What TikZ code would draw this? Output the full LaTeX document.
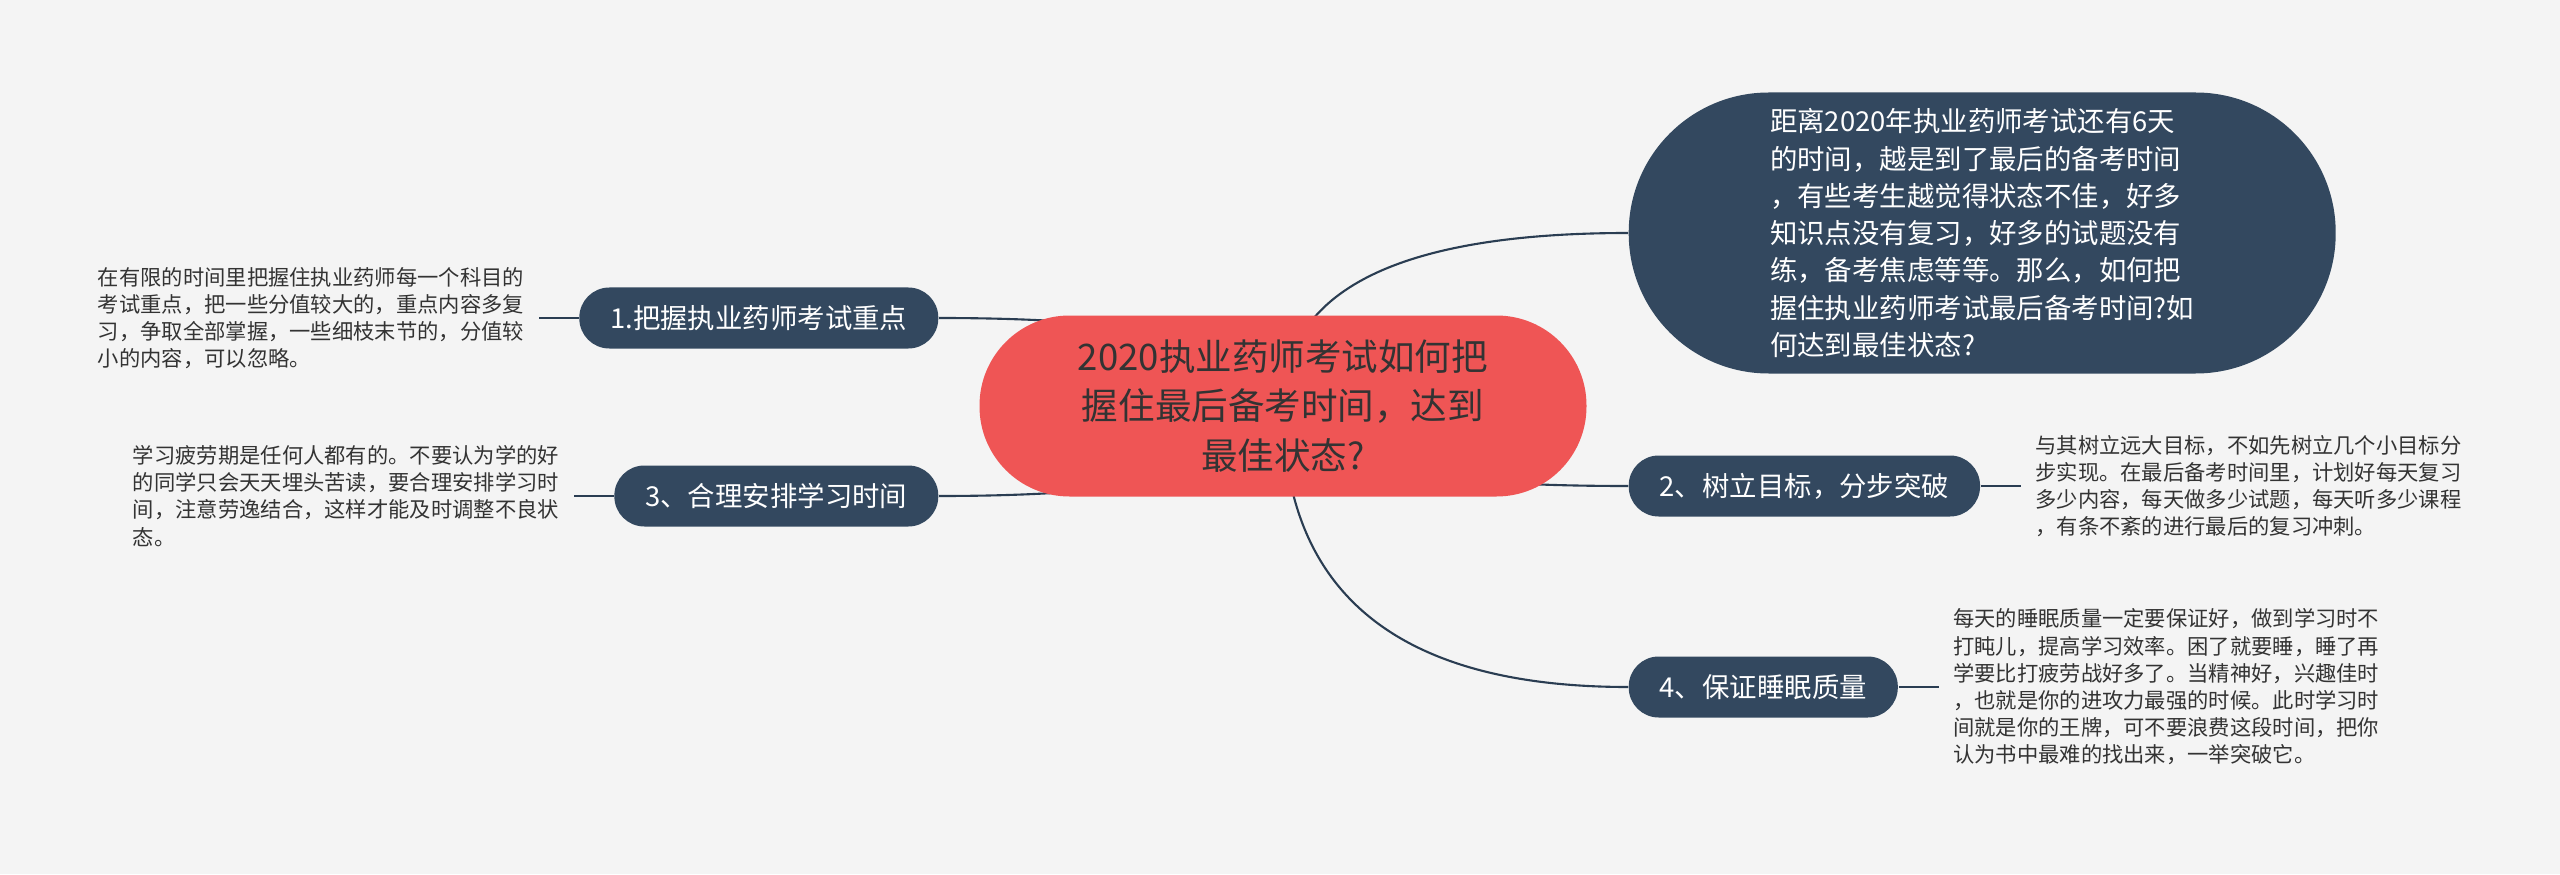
\documentclass[tikz,border=0pt]{standalone}
\usepackage{fontspec}
\setmainfont{Noto Sans CJK SC}
\usepackage{xcolor}
\usepackage{tikz}
\usetikzlibrary{positioning,calc,backgrounds}
\definecolor{MapPaper}{HTML}{F4F4F4}
\definecolor{MapNavy}{HTML}{33485F}
\definecolor{MapRed}{HTML}{EF5555}
\definecolor{MapInk}{HTML}{333333}
\definecolor{MapLine}{HTML}{2A3D52}
\tikzset{
  root/.style={fill=MapRed, text=MapInk, rounded corners=9mm, align=center,
    minimum width=60.7mm, minimum height=18.1mm,
    font=\fontsize{10.4pt}{14.2pt}\selectfont},
  intro/.style={fill=MapNavy, text=white, rounded corners=14mm, align=left,
    minimum width=70.7mm, minimum height=28.1mm,
    font=\fontsize{7.8pt}{10.6pt}\selectfont},
  topic/.style={fill=MapNavy, text=white, rounded corners=3mm,
    minimum height=6.1mm, inner xsep=3.1mm,
    font=\fontsize{7.8pt}{9pt}\selectfont},
  note/.style={text=MapInk, align=left, inner sep=1.4mm,
    font=\fontsize{6.06pt}{7.74pt}\selectfont},
  wire/.style={draw=MapLine, line width=0.6pt}
}
\begin{document}
\begin{tikzpicture}[node distance=4mm]
  \node[root] (c) at (12.83,4.68) {2020执业药师考试如何把\\握住最后备考时间，达到\\最佳状态?};
  \node[intro, anchor=west] (tr) at (16.28,6.41) {距离2020年执业药师考试还有6天\\的时间，越是到了最后的备考时间\\，有些考生越觉得状态不佳，好多\\知识点没有复习，好多的试题没有\\练，备考焦虑等等。那么，如何把\\握住执业药师考试最后备考时间?如\\何达到最佳状态?};
  \node[topic, anchor=east] (b1) at (9.39,5.56) {1.把握执业药师考试重点};
  \node[topic, anchor=east] (b3) at (9.39,3.78) {3、合理安排学习时间};
  \node[topic, anchor=west] (b2) at (16.28,3.88) {2、树立目标，分步突破};
  \node[topic, anchor=west] (b4) at (16.28,1.87) {4、保证睡眠质量};
  \node[note, left=of b1] (n1) {在有限的时间里把握住执业药师每一个科目的\\考试重点，把一些分值较大的，重点内容多复\\习，争取全部掌握，一些细枝末节的，分值较\\小的内容，可以忽略。};
  \node[note, left=of b3] (n3) {学习疲劳期是任何人都有的。不要认为学的好\\的同学只会天天埋头苦读，要合理安排学习时\\间，注意劳逸结合，这样才能及时调整不良状\\态。};
  \node[note, right=of b2] (n2) {与其树立远大目标，不如先树立几个小目标分\\步实现。在最后备考时间里，计划好每天复习\\多少内容，每天做多少试题，每天听多少课程\\，有条不紊的进行最后的复习冲刺。};
  \node[note, right=of b4] (n4) {每天的睡眠质量一定要保证好，做到学习时不\\打盹儿，提高学习效率。困了就要睡，睡了再\\学要比打疲劳战好多了。当精神好，兴趣佳时\\，也就是你的进攻力最强的时候。此时学习时\\间就是你的王牌，可不要浪费这段时间，把你\\认为书中最难的找出来，一举突破它。};
  \begin{scope}[on background layer]
    \fill[MapPaper] (0,0) rectangle (25.6,8.74);
    \draw[wire] (c.center) .. controls ($(c.center)!2/3!(c.center |- tr.west)$) and ($(tr.west)!2/3!(c.center |- tr.west)$) .. (tr.west);
    \draw[wire] (c.center) .. controls ($(c.center)!2/3!(c.center |- b1.east)$) and ($(b1.east)!2/3!(c.center |- b1.east)$) .. (b1.east);
    \draw[wire] (c.center) .. controls ($(c.center)!2/3!(c.center |- b3.east)$) and ($(b3.east)!2/3!(c.center |- b3.east)$) .. (b3.east);
    \draw[wire] (c.center) .. controls ($(c.center)!2/3!(c.center |- b2.west)$) and ($(b2.west)!2/3!(c.center |- b2.west)$) .. (b2.west);
    \draw[wire] (c.center) .. controls ($(c.center)!2/3!(c.center |- b4.west)$) and ($(b4.west)!2/3!(c.center |- b4.west)$) .. (b4.west);
    \draw[wire] (b1) -- (n1);
    \draw[wire] (b3) -- (n3);
    \draw[wire] (b2) -- (n2);
    \draw[wire] (b4) -- (n4);
  \end{scope}
\end{tikzpicture}
\end{document}
